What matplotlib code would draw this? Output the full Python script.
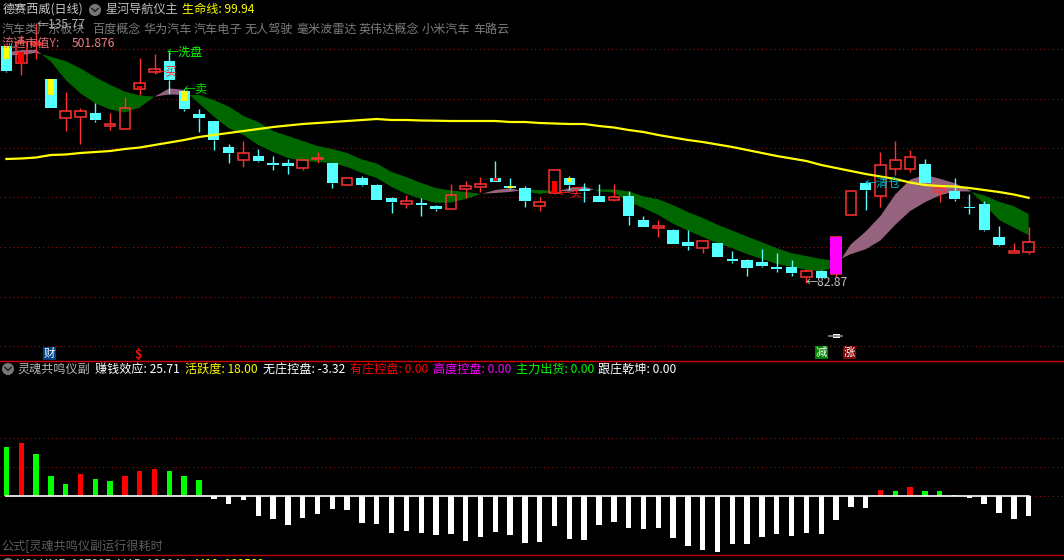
import matplotlib
matplotlib.use("Agg")
import matplotlib.pyplot as plt
import numpy as np
from matplotlib.patches import Circle, Rectangle

plt.rcParams['font.family'] = ['Noto Sans CJK SC', 'DejaVu Sans']

# ---- candles ----
opens = [130.3,126.83,130.5,123.7,115.97,116.17,116.9,114.37,113.77,121.77,125.1,127.3,121.3,116.63,
         115.3,110.1,107.56,108.3,106.96,106.9,105.96,107.7,106.9,102.56,103.84,102.5,99.9,98.76,98.9,98.3,97.76,101.76,102.16,103.9,102.3,101.9,98.3,
         100.97,103.9,101.77,100.3,99.5,100.3,95.5,93.97,93.5,91.1,89.97,90.9,87.7,87.5,87.1,86.1,86.1,84.1,85.3,84.7,96.5,102.83,100.37,105.7,105.7,106.7,101.17,101.3,98.1,98.7,92.1,88.97,89.17]
closes = [125.3,131.03,130.97,117.97,117.23,117.23,115.57,114.7,117.83,122.83,125.63,123.5,117.7,115.9,
          111.5,108.9,108.84,107.3,106.56,106.3,107.44,107.84,102.9,103.84,102.5,99.5,99.1,99.24,98.5,97.7,100.44,102.24,102.64,103.1,101.9,99.3,99.04,
          105.5,102.5,101.37,99.1,100.03,96.3,94.1,94.3,90.7,90.3,91.23,88.1,87.3,85.9,86.3,85.7,84.9,85.3,83.9,92.1,101.3,101.5,106.43,107.43,108.03,102.9,101.9,99.7,97.9,93.5,90.5,89.3,91.03]
highs = [130.3,132.5,134.83,123.7,121.1,117.83,118.9,116.9,120.03,127.83,128.7,129.17,121.63,117.7,
         115.3,110.7,111.3,109.7,108.3,107.7,107.44,109.1,106.9,103.84,104.3,102.7,100.1,100.5,99.84,98.5,102.7,103.3,104.1,107.3,103.9,102.3,100.1,
         105.5,104.3,102.83,102.7,102.7,101.3,96.3,95.5,93.7,93.5,91.23,90.9,89.3,87.7,89.7,88.9,87.5,85.7,85.5,92.1,101.3,103.3,109.1,111.3,109.5,107.7,102.5,103.83,100.7,99.3,94.3,90.9,94.1]
lows = [125.03,124.5,127.77,117.97,113.37,110.77,115.17,113.57,113.77,120.5,124.7,120.7,117.3,113.1,
        109.5,106.9,106.16,107.1,105.5,104.7,105.5,106.9,101.9,102.56,102.3,99.5,96.9,97.9,96.3,97.3,97.76,99.9,101.1,103.1,101.7,98.1,97.3,
        100.63,101.5,99.1,99.1,99.3,94.5,94.1,92.1,90.7,89.5,88.9,88.1,86.9,84.3,86.1,85.1,84.3,82.87,83.9,84.1,96.5,97.5,98.1,104.5,105.1,102.5,99.1,99.3,96.7,93.3,90.3,88.97,88.7]

# ---- yellow / red inner bars (candle, top, bottom) ----
yellow_idx = [0, 3, 12, 34, 38]
yellow_top = [130.3, 123.7, 121.3, 102.3, 103.83]
yellow_bot = [127.7, 120.5, 119.3, 101.9, 103.17]
red_idx = [1, 9, 33, 37]
red_top = [129.17, 122.3, 103.9, 103.3]
red_bot = [126.83, 121.77, 103.3, 100.97]
surge_idx = [56]

# ---- ribbon (fast / slow) ----
fast = [129.05,129.45,129.55,127.17,123.52,120.82,118.83,117.6,117.0,118.02,120.17,121.83,121.5,118.83,116.2,113.87,
        112.5,110.5,109.1,107.9,107.3,107.1,106.9,106.1,104.9,103.9,102.1,100.7,99.7,98.9,99.0,99.7,100.66,101.5,101.84,101.2,100.7,
        101.11,101.83,102.19,101.21,101.01,99.17,97.88,96.51,94.75,93.37,92.1,90.83,89.85,88.68,87.7,86.72,86.13,85.54,85.25,86.13,
        90.63,93.18,96.31,100.62,103.56,104.54,103.75,102.87,101.5,98.66,95.53,93.96,92.49]
slow = [128.46,128.46,128.95,128.16,127.29,125.84,124.05,122.55,121.16,120.43,120.17,120.63,120.5,120.5,119.5,118.2,
        116.3,115.1,113.3,112.3,111.3,110.3,109.7,108.9,107.6,106.8,105.1,104.1,102.9,101.9,101.4,101.1,100.74,100.9,101.1,101.55,101.5,
        101.36,101.17,101.36,101.6,101.64,101.21,100.23,99.64,98.47,97.09,95.92,94.55,93.37,92.2,91.03,89.85,88.87,88.28,87.7,87.3,
        88.68,89.65,91.42,94.55,97.29,99.05,100.42,101.21,101.21,100.42,99.15,98.27,96.7]

# ---- life line ----
life = [107.7,107.8,108.0,108.5,108.6,108.9,109.1,109.3,109.7,110.0,110.5,111.0,111.5,112.1,112.5,112.9,113.3,113.7,114.1,114.4,
        114.7,114.9,115.1,115.3,115.5,115.7,115.5,115.5,115.4,115.36,115.3,115.3,115.3,115.3,115.1,115.1,114.9,114.8,114.7,114.7,
        114.3,114.0,113.5,113.1,112.5,112.0,111.5,111.1,110.6,110.1,109.5,108.9,108.3,107.8,107.3,106.5,105.9,105.3,104.7,104.2,
        103.7,103.0,102.5,102.3,102.2,101.9,101.5,101.1,100.6,99.94]

grid_main = [129.64, 119.7, 109.84, 100.04, 90.1, 80.2, 70.24]

# ---- lower panel ----
sub_vals = [8.5,9.2,7.3,3.5,2.13,3.85,2.99,2.64,3.5,4.37,4.71,4.37,3.5,2.82,
            -0.46,-1.32,-0.63,-3.39,-3.91,-4.94,-3.74,-3.05,-2.18,-2.36,-4.6,-4.77,-6.32,-5.98,-6.32,-6.67,-6.49,-7.7,-7.01,-6.15,-6.67,-8.05,
            -7.87,-5.11,-7.36,-7.53,-4.94,-4.43,-5.46,-5.63,-5.46,-7.18,-8.56,-9.25,-9.6,-8.22,-8.22,-7.0,-6.49,-6.84,-6.32,-6.49,-4.08,-1.84,-2.01,
            1.09,0.92,1.61,0.92,0.92,0.23,-0.29,-1.32,-2.87,-3.91,-3.32]
sub_kind = "GRGGGRGGRRRGGG" + "W" * 45 + "RGRGGG" + "W" * 5
grid_sub = [0, 5, 10]

tags = ["汽车类","广东板块","百度概念","华为汽车","汽车电子","无人驾驶","毫米波雷达","英伟达概念","小米汽车","车路云"]
tag_x = [2,37,92,143,194,245,296,359,422,473]
head_sub = ["灵魂共鸣仪副","赚钱效应: 25.71","活跃度: 18.00","无庄控盘: -3.32","有庄控盘: 0.00","高度控盘: 0.00","主力出货: 0.00","跟庄乾坤: 0.00"]
head_x = [18,95,185,263,350,433,516,598]
head_c = ["#b8b8b8","#ffffff","#ffff00","#ffffff","#ff0000","#ff00ff","#00ff00","#ffffff"]

W, H = 1064, 560
SP = 14.815
XL = (-6.4 / SP, (W - 6.4) / SP)
RED = "#ff3232"; CYAN = "#54ffff"

fig = plt.figure(figsize=(W/100, H/100), dpi=100, facecolor="black")
ax = fig.add_axes([0, (H-360)/H, 1, 360/H], facecolor="black")
ax2 = fig.add_axes([0, (H-555)/H, 1, 194/H], facecolor="black")
ov = fig.add_axes([0, 0, 1, 1], facecolor="none", zorder=5)
ov.set_xlim(0, W); ov.set_ylim(H, 0); ov.axis("off")
ax.set_xlim(*XL); ax.set_ylim(67.5, 139.5); ax.axis("off")
ax2.set_xlim(*XL); ax2.set_ylim(-10.12, 23.33); ax2.axis("off")

x = np.arange(len(opens))
o, c, h, l = map(np.array, (opens, closes, highs, lows))
f, s = np.array(fast), np.array(slow)

dot = (0, (1, 3.4))
for g in grid_main:
    ax.axhline(g, color="#b01010", lw=0.7, ls=dot, zorder=0.5)
ax.fill_between(x, f, s, where=f <= s, interpolate=True, color="#006600", lw=0, zorder=1)
ax.fill_between(x, f, s, where=f >= s, interpolate=True, color="#96637f", lw=0, zorder=1)

top = np.maximum(o, c); bot = np.minimum(o, c)
up = c >= o
wick_col = [RED if u else CYAN for u in up]
ax.vlines(x, top, h, color=wick_col, lw=1.0, zorder=2)
ax.vlines(x, l, bot, color=wick_col, lw=1.0, zorder=2)
BW = 10.6 / SP
ax.bar(x[~up], (top-bot)[~up], bottom=bot[~up], width=BW+0.05, color=CYAN, lw=0, zorder=3)
ax.bar(x[up], (top-bot)[up], bottom=bot[up], width=BW, facecolor="none", edgecolor=RED, lw=1.1, zorder=3)
ax.bar(surge_idx, (top-bot)[surge_idx], bottom=bot[surge_idx], width=BW+0.05, color="#ff00ff", lw=0, zorder=3.5)
ax.bar(yellow_idx, np.array(yellow_top)-np.array(yellow_bot), bottom=yellow_bot, width=5.5/SP, color="#ffff00", lw=0, zorder=4)
ax.bar(red_idx, np.array(red_top)-np.array(red_bot), bottom=red_bot, width=5.5/SP, color="#ff0000", lw=0, zorder=4)
ax.plot(x, life, color="#ffff00", lw=1.6, zorder=5, solid_joinstyle="miter")

# lower panel
for g in grid_sub:
    ax2.axhline(g, color="#b01010", lw=0.7, ls=dot, zorder=0.5)
kc = {"G": "#00ff00", "R": "#ff0000", "W": "#ffffff"}
ax2.bar(x, sub_vals, width=5.4/SP, color=[kc[k] for k in sub_kind], lw=0, zorder=2)
ax2.plot([x[0], x[-1]], [0, 0], color="#ffffff", lw=1.2, zorder=3)

# separators
for yy, col in [(360.5, "#d00000"), (554.5, "#c00000")]:
    ov.plot([0, W], [yy, yy], color=col, lw=1.0)


def T(px, py, s, col, size=8.7, ha="left", **kw):
    return ov.text(px, py, s, color=col, fontsize=size, ha=ha, va="center", **kw)


def icon(px, py):
    ov.add_patch(Circle((px, py), 6, color="#787878", lw=0))
    ov.plot([px-3, px, px+3], [py-1.5, py+1.5, py-1.5], color="#222222", lw=1.1)


T(3, 9.5, "德赛西威(日线)", "#c8c8c8")
icon(95, 10)
T(105, 9.5, "星河导航仪主", "#c0c0c0")
T(182, 9.5, "生命线: 99.94", "#ffff00")
for s_, xx in zip(tags, tag_x):
    T(xx, 29, s_, "#7c7c7c")
T(2, 43.5, "流通市值Y:", "#e06a6a")
T(72, 43.5, "501.876", "#f08080")
T(37, 24, "←135.77", "#b0b0b0")
T(167, 52.5, "←洗盘", "#00ff00")
T(154, 71.5, "←买", "#ff2020")
T(184, 90, "←卖", "#00e000")
T(559, 192.5, "←买", "#ff2020")
T(865, 183, "←清仓", "#00c0d0")
T(806, 283, "←82.87", "#c0c0c0")

# badges
for bx, by, col, s_ in [(43, 347, "#004488", "财"), (815, 346, "#008000", "减"), (843, 346, "#800000", "涨")]:
    ov.add_patch(Rectangle((bx, by), 13, 13, color=col, lw=0))
    T(bx+6.5, by+6.3, s_, "#ffffff", size=8.2, ha="center")
T(138, 354, "$", "#ff1010", size=9, ha="center", fontweight="bold")
ov.plot([829, 842], [336, 336], color="#909090", lw=1.2)
ov.add_patch(Rectangle((832.5, 334), 7, 4, color="#ffffff", lw=0))
ov.add_patch(Rectangle((834, 335), 4, 1.6, color="#e08000", lw=0))

icon(8, 369)
for s_, xx, col in zip(head_sub, head_x, head_c):
    T(xx, 369, s_, col)
T(1, 546, "公式[灵魂共鸣仪副运行很耗时", "#5e5e5e")
icon(8, 564)
T(17, 564, "VOLUME: 187885  MA5: 188048", "#c0c0c0")
T(195, 564, "M10: 189589", "#ffff00")

fig.savefig("out.png", dpi=100, facecolor="black")
